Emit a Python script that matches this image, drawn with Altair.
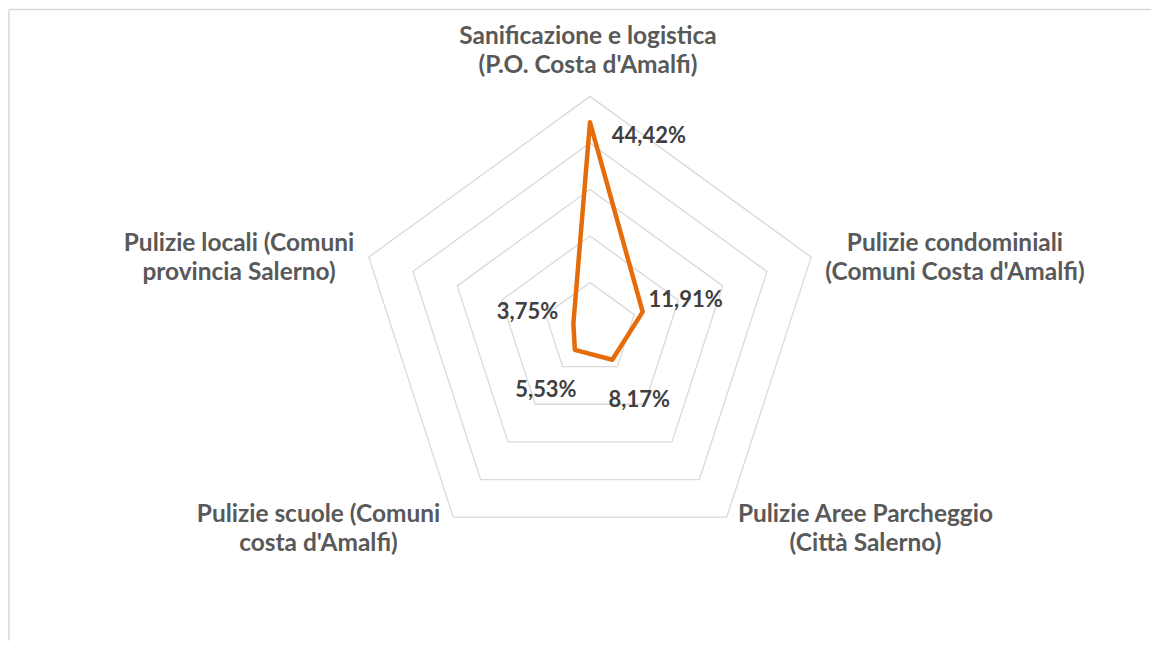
import altair as alt
import pandas as pd

# ---- data ----
categories = [
    "Sanificazione e logistica\n(P.O. Costa d'Amalfi)",
    "Pulizie condominiali\n(Comuni Costa d'Amalfi)",
    "Pulizie Aree Parcheggio\n(Città Salerno)",
    "Pulizie scuole (Comuni\ncosta d'Amalfi)",
    "Pulizie locali (Comuni\nprovincia Salerno)",
]
values = [44.42, 11.91, 8.17, 5.53, 3.75]
value_labels = ["44,42%", "11,91%", "8,17%", "5,53%", "3,75%"]
grid_levels = [10, 20, 30, 40, 50]
axis_max = 50

n = len(categories)
series_df = pd.DataFrame({"idx": list(range(n)), "category": categories,
                          "value": values, "label": value_labels})
grid_df = pd.DataFrame([{"idx": i, "level": lv, "value": lv}
                        for lv in grid_levels for i in range(n)])
cat_df = pd.DataFrame({"idx": list(range(n)), "category": categories,
                       "value": [axis_max] * n})

# ---- layout / style ----
W, H = 1144, 632
cx, cy = 582, 320          # centre of the radar inside the plot area (px)
R = 233                    # outer radius (px)
k = R / axis_max
xdom = [-cx / k, (W - cx) / k]
ydom = [-(H - cy) / k, cy / k]

FONT = "Lato"
CAT_COLOR = "#595959"
LBL_COLOR = "#404040"
LINE_COLOR = "#E46C0A"
GRID_COLOR = "#D9D9D9"

label_offsets = [(59, 14), (43, -12), (27, 40), (-29, 40), (-46, -12)]
cat_offsets = [(-2, -59), (144, -13), (139, -2), (-135, -2), (-130, -13)]

X = alt.X("x:Q", scale=alt.Scale(domain=xdom, nice=False, zero=False), axis=None)
Y = alt.Y("y:Q", scale=alt.Scale(domain=ydom, nice=False, zero=False), axis=None)


def polar(ch):
    return (ch.transform_calculate(ang=f"2*PI*datum.idx/{n}")
              .transform_calculate(x="datum.value*sin(datum.ang)",
                                   y="datum.value*cos(datum.ang)"))


grid = polar(alt.Chart(grid_df)).mark_line(
    interpolate="linear-closed", color=GRID_COLOR, strokeWidth=1.3
).encode(x=X, y=Y, detail="level:N", order="idx:Q")

series = polar(alt.Chart(series_df)).mark_line(
    interpolate="linear-closed", color=LINE_COLOR, strokeWidth=4.5,
    strokeJoin="round"
).encode(x=X, y=Y, order="idx:Q")

layers = [grid, series]

for i, (dx, dy) in enumerate(label_offsets):
    layers.append(
        polar(alt.Chart(series_df)).transform_filter(f"datum.idx == {i}")
        .mark_text(font=FONT, fontSize=22, fontWeight="bold", color=LBL_COLOR,
                   align="center", baseline="middle", dx=dx, dy=dy)
        .encode(x=X, y=Y, text="label:N")
    )

for i, (dx, dy) in enumerate(cat_offsets):
    layers.append(
        polar(alt.Chart(cat_df)).transform_filter(f"datum.idx == {i}")
        .mark_text(font=FONT, fontSize=24.5, fontWeight="bold", color=CAT_COLOR,
                   align="center", baseline="middle", lineBreak="\n",
                   lineHeight=29, dx=dx, dy=dy)
        .encode(x=X, y=Y, text="category:N")
    )

border_df = pd.DataFrame({"a": [0]})
top_rule = alt.Chart(border_df).mark_rule(color=GRID_COLOR, strokeWidth=1.5).encode(
    x=alt.value(0), x2=alt.value(W), y=alt.value(0))
left_rule = alt.Chart(border_df).mark_rule(color=GRID_COLOR, strokeWidth=1.5).encode(
    x=alt.value(0), y=alt.value(0), y2=alt.value(H))
layers += [top_rule, left_rule]

chart = alt.layer(*layers).properties(
    width=W, height=H, padding=0, background="white"
).configure_view(stroke=None)

chart.save("out.html", embed_options={"renderer": "svg", "actions": False})
